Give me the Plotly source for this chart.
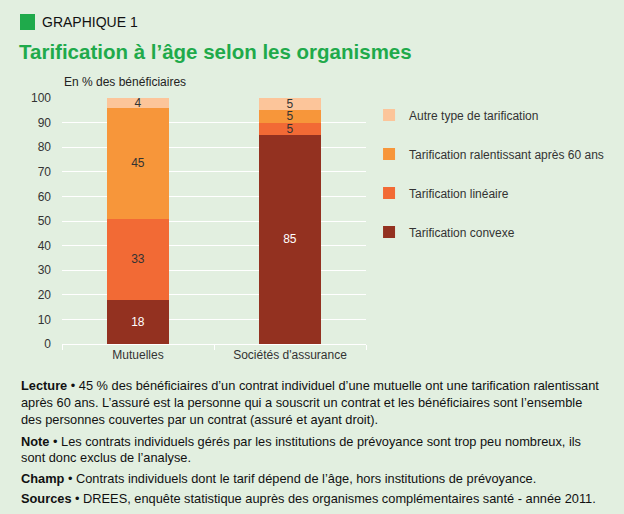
import plotly.graph_objects as go

categories = ["Mutuelles", "Sociétés d'assurance"]
series_names = ["Tarification convexe", "Tarification linéaire",
                "Tarification ralentissant après 60 ans", "Autre type de tarification"]
convexe = [18, 85]
lineaire = [33, 5]
ralentissant = [45, 5]
autre = [4, 5]
series_values = [convexe, lineaire, ralentissant, autre]
colors = ["#933120", "#F26A35", "#F7963A", "#FCC59A"]
text_colors = ["white", "#333333", "#333333", "#333333"]
y_ticks = [0, 10, 20, 30, 40, 50, 60, 70, 80, 90, 100]

bg = "#E2EFE0"
font = "Liberation Sans, Arial, sans-serif"

fig = go.Figure()
for i, (name, vals) in enumerate(zip(series_names, series_values)):
    fig.add_trace(go.Bar(
        x=categories, y=vals, name=name,
        marker=dict(color=colors[i], line=dict(width=0)),
        text=[str(v) for v in vals], textposition="inside",
        insidetextanchor="middle", textangle=0,
        textfont=dict(color=text_colors[i], size=12, family=font),
        legendgroup=name, legendrank=len(series_names) - i,
        hoverinfo="skip",
    ))

fig.update_layout(
    barmode="stack",
    bargap=0.59,
    width=624, height=514,
    margin=dict(l=62, r=258, t=98, b=170, autoexpand=False),
    paper_bgcolor=bg, plot_bgcolor=bg,
    font=dict(family=font, size=12, color="#333333"),
    uniformtext=dict(minsize=12, mode="show"),
    showlegend=True,
    legend=dict(x=1.01, y=0.99, xanchor="left", yanchor="top",
                traceorder="grouped", tracegroupgap=20,
                font=dict(size=12, color="#333333"), bgcolor="rgba(0,0,0,0)",
                itemwidth=30),
    xaxis=dict(showgrid=False, showline=True, linecolor="white", linewidth=1,
               ticks="outside", tickcolor="white", ticklen=5,
               tickson="boundaries",
               tickfont=dict(size=12, color="#333333")),
    yaxis=dict(range=[0, 100], tickvals=y_ticks, showgrid=True,
               gridcolor="white", gridwidth=1, zeroline=False,
               ticks="", ticklabelstandoff=10,
               tickfont=dict(size=12, color="#333333")),
)

# Header
fig.add_shape(type="rect", xref="paper", yref="paper",
              x0=(20 - 62) / 304, x1=(35 - 62) / 304,
              y0=(344 - 30) / 246, y1=(344 - 14) / 246,
              fillcolor="#1FAA4B", line=dict(width=0))
fig.add_annotation(text="GRAPHIQUE 1", xref="paper", yref="paper",
                   x=(40 - 62) / 304, y=(344 - 22) / 246, xanchor="left", yanchor="middle",
                   showarrow=False, font=dict(size=14, color="#111111", family=font))
fig.add_annotation(text="<b>Tarification à l’âge selon les organismes</b>", xref="paper", yref="paper",
                   x=(17 - 62) / 304, y=(344 - 52) / 246, xanchor="left", yanchor="middle",
                   showarrow=False, font=dict(size=20.5, color="#1FAA4B", family=font))
fig.add_annotation(text="En % des bénéficiaires", xref="paper", yref="paper",
                   x=0, y=(344 - 82) / 246, xanchor="left", yanchor="middle",
                   showarrow=False, font=dict(size=12, color="#222222", family=font))

foot = [
    (385, "<b>Lecture</b> • 45 % des bénéficiaires d’un contrat individuel d’une mutuelle ont une tarification ralentissant"),
    (402, "après 60 ans. L’assuré est la personne qui a souscrit un contrat et les bénéficiaires sont l’ensemble"),
    (419, "des personnes couvertes par un contrat (assuré et ayant droit)."),
    (441, "<b>Note</b> • Les contrats individuels gérés par les institutions de prévoyance sont trop peu nombreux, ils"),
    (457, "sont donc exclus de l’analyse."),
    (478, "<b>Champ</b> • Contrats individuels dont le tarif dépend de l’âge, hors institutions de prévoyance."),
    (498, "<b>Sources</b> • DREES, enquête statistique auprès des organismes complémentaires santé - année 2011."),
]
for ypx, t in foot:
    fig.add_annotation(text=t, xref="paper", yref="paper",
                       x=(19 - 62) / 304, y=(344 - ypx) / 246, xanchor="left", yanchor="middle",
                       showarrow=False, font=dict(size=12.8, color="#111111", family=font))

fig.write_html("out.html")
